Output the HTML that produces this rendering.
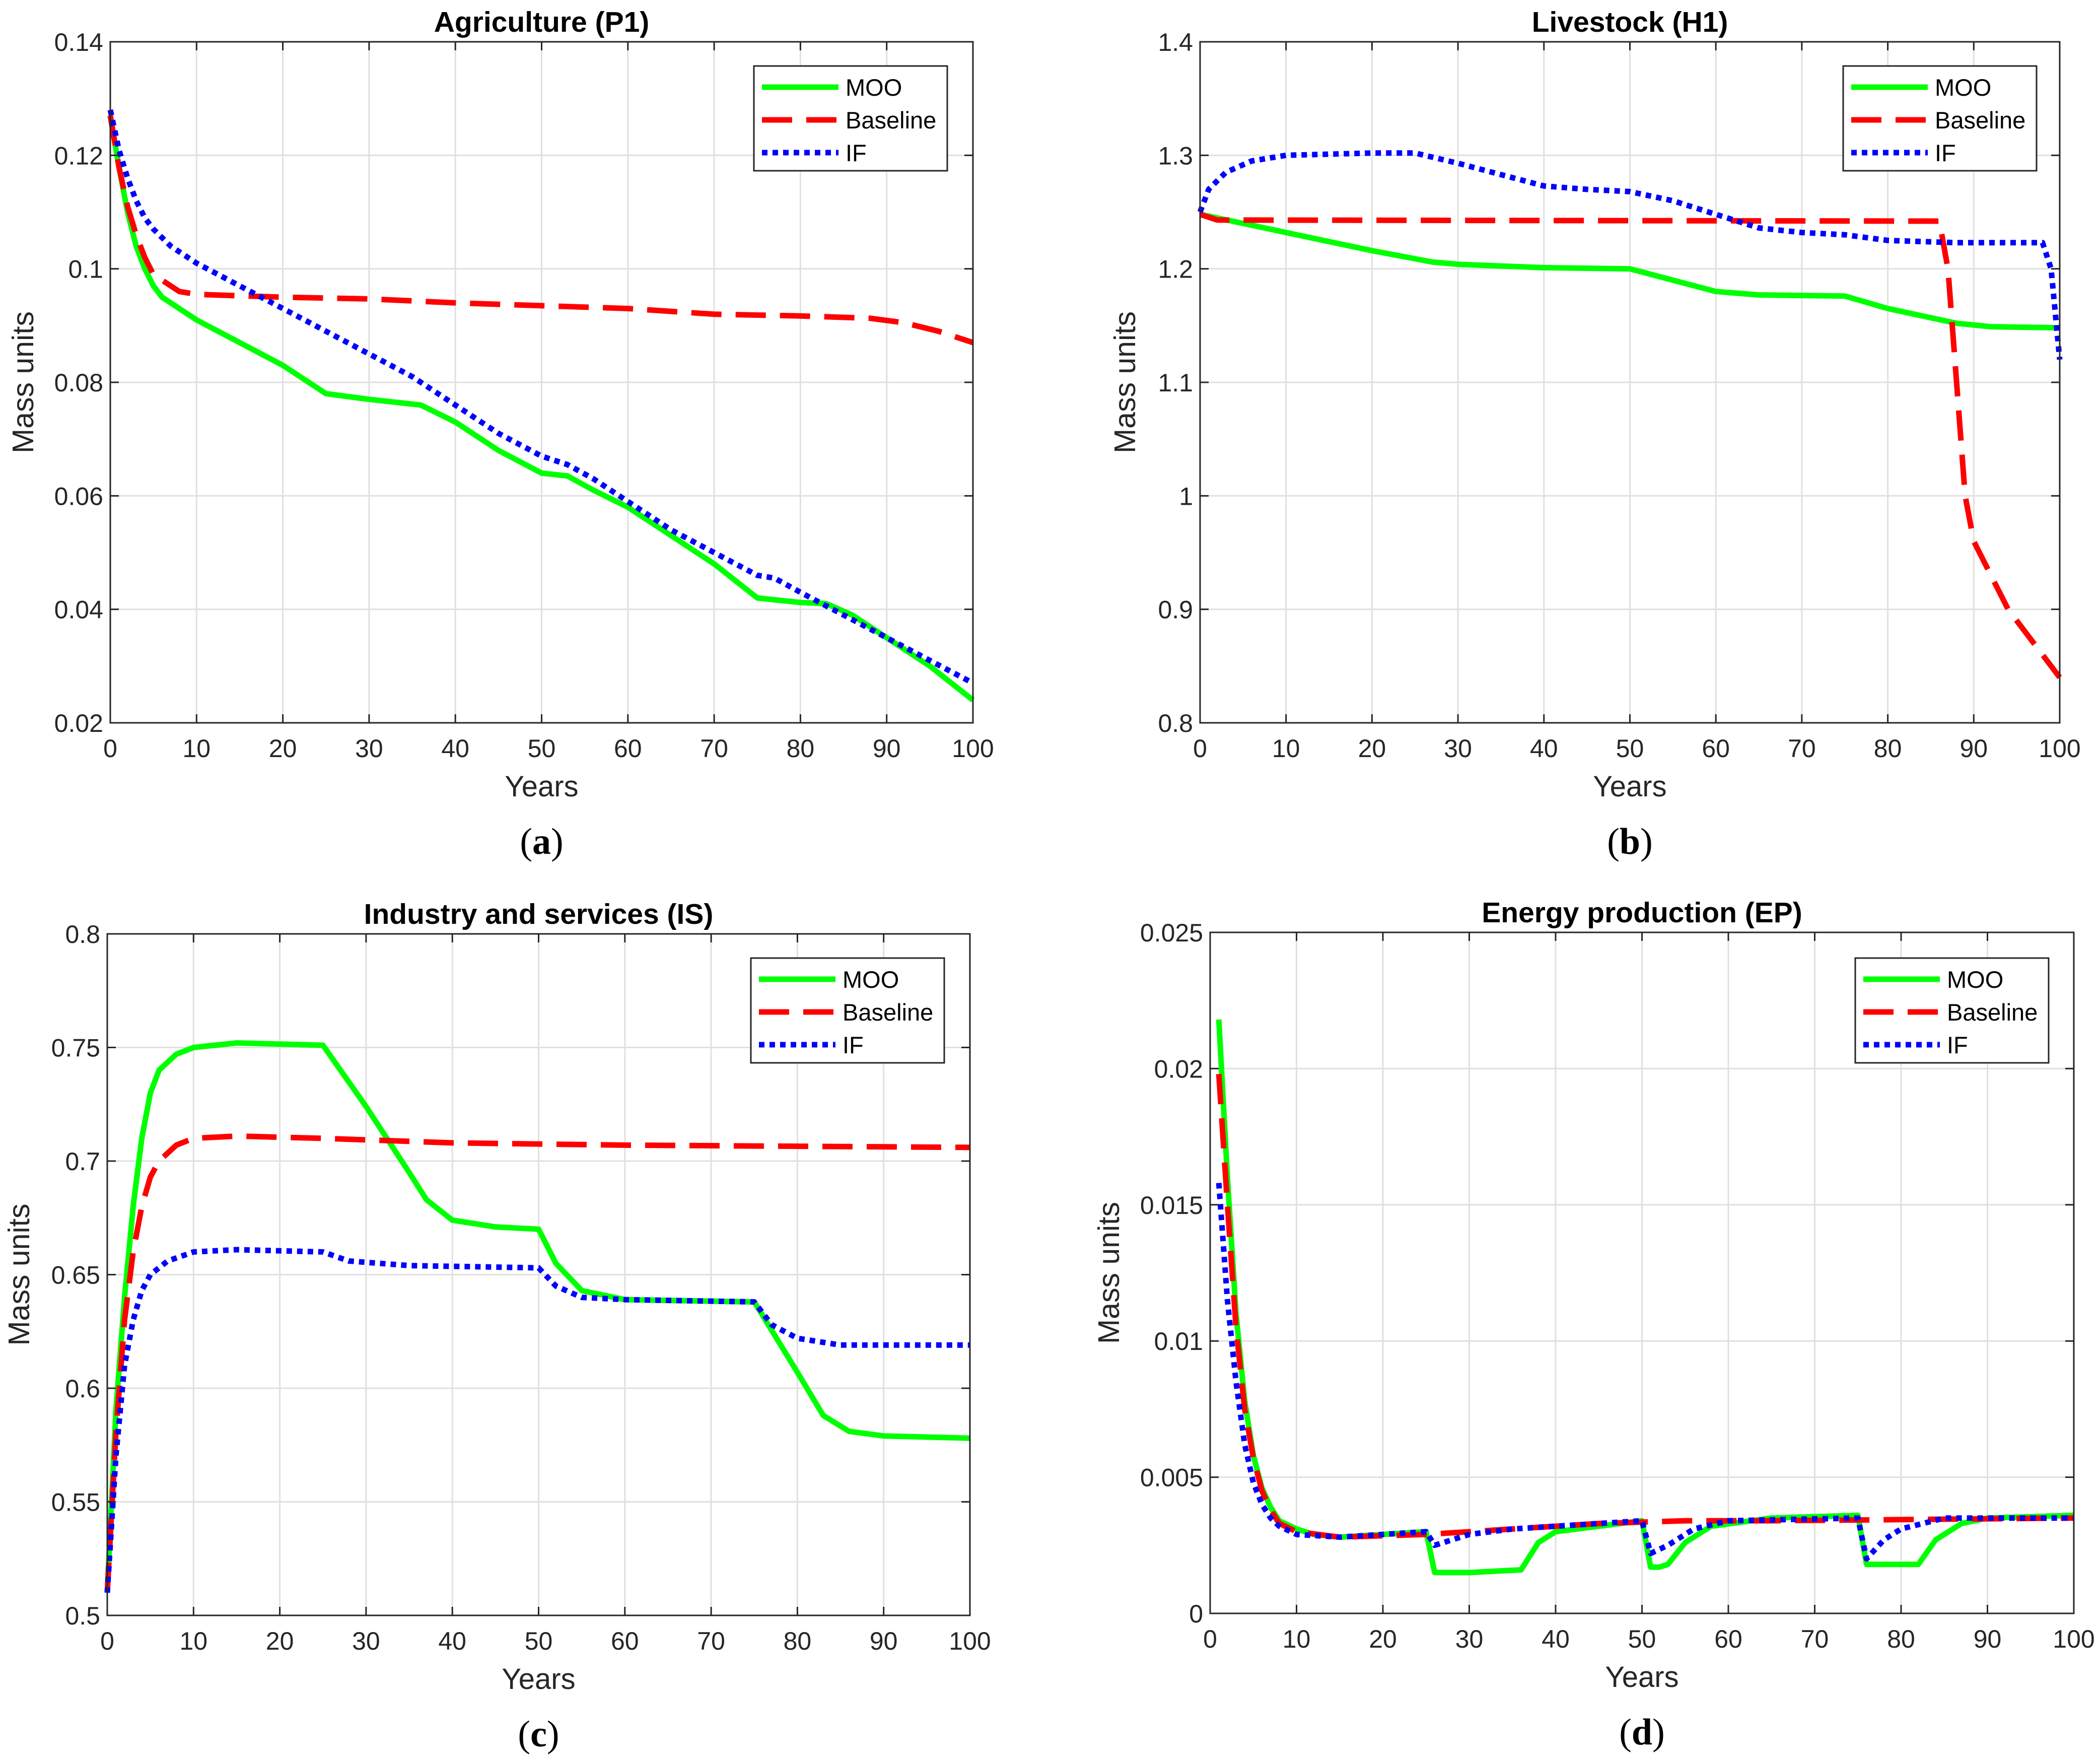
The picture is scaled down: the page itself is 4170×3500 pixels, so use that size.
<!DOCTYPE html>
<html><head><meta charset="utf-8"><style>
html,body{margin:0;padding:0;background:#fff;}
svg{display:block;font-family:"Liberation Sans",Arial,sans-serif;}
</style></head><body>
<svg id="fig" width="4170" height="3500" viewBox="0 0 4170 3500" xmlns="http://www.w3.org/2000/svg"></svg>
<script>
// ---- Panel (a) Agriculture ----
const aMooX=[0,1,2,3,4,5,6,8,10,15,20,25,30,36,40,45,50,53,56,60,65,70,75,80,83,86,90,95,100];
const aMooY=[0.127,0.118,0.110,0.104,0.100,0.097,0.095,0.093,0.091,0.087,0.083,0.078,0.077,0.076,0.073,0.068,0.064,0.0635,0.061,0.058,0.053,0.048,0.042,0.0412,0.041,0.039,0.035,0.030,0.024];
const aBaseX=[0,1,2,3,4,5,6,8,10,20,30,40,50,60,70,80,88,92,96,100];
const aBaseY=[0.127,0.118,0.111,0.106,0.102,0.099,0.098,0.096,0.0955,0.095,0.0947,0.094,0.0935,0.093,0.092,0.0917,0.0913,0.0905,0.089,0.087];
const aIfX=[0,1,2,3,4,5,7,10,15,20,25,30,35,40,45,50,53,56,60,65,70,75,77,80,85,90,95,100];
const aIfY=[0.128,0.121,0.116,0.112,0.109,0.107,0.104,0.101,0.097,0.093,0.089,0.085,0.081,0.076,0.071,0.067,0.0655,0.063,0.059,0.054,0.050,0.046,0.0455,0.043,0.039,0.035,0.031,0.027];
const aTicks=[0.02,0.04,0.06,0.08,0.1,0.12,0.14];
const aTickLabels=["0.02","0.04","0.06","0.08","0.1","0.12","0.14"];
// ---- Panel (b) Livestock ----
const bMooX=[0,5,10,20,27,30,40,50,55,60,65,75,80,88,92,100];
const bMooY=[1.248,1.240,1.232,1.216,1.206,1.204,1.201,1.200,1.190,1.180,1.177,1.176,1.165,1.152,1.149,1.148];
const bBaseX=[0,2,86,87,88,89,90,92,94,97,100];
const bBaseY=[1.248,1.243,1.242,1.20,1.10,1.0,0.96,0.93,0.90,0.87,0.84];
const bIfX=[0,1,3,6,10,20,25,30,40,45,50,55,60,65,70,75,80,88,98,99,100];
const bIfY=[1.25,1.27,1.285,1.295,1.30,1.302,1.302,1.293,1.273,1.270,1.268,1.260,1.248,1.236,1.232,1.230,1.225,1.223,1.223,1.20,1.12];
const bTicks=[0.8,0.9,1.0,1.1,1.2,1.3,1.4];
const bTickLabels=["0.8","0.9","1","1.1","1.2","1.3","1.4"];
// ---- Panel (c) Industry ----
const cMooX=[0,1,2,3,4,5,6,8,10,15,25,30,35,37,40,45,50,52,55,60,75,80,83,86,90,100];
const cMooY=[0.51,0.59,0.64,0.68,0.71,0.73,0.74,0.747,0.75,0.752,0.751,0.724,0.695,0.683,0.674,0.671,0.670,0.655,0.643,0.639,0.638,0.607,0.588,0.581,0.579,0.578];
const cBaseX=[0,1,2,3,4,5,6,8,10,15,25,40,60,100];
const cBaseY=[0.51,0.58,0.63,0.66,0.68,0.693,0.70,0.707,0.71,0.711,0.710,0.708,0.707,0.706];
const cIfX=[0,1,2,3,4,5,7,10,15,25,28,35,50,52,55,60,75,77,80,85,100];
const cIfY=[0.51,0.57,0.61,0.63,0.643,0.650,0.656,0.660,0.661,0.660,0.656,0.654,0.653,0.645,0.640,0.639,0.638,0.628,0.622,0.619,0.619];
const cTicks=[0.5,0.55,0.6,0.65,0.7,0.75,0.8];
const cTickLabels=["0.5","0.55","0.6","0.65","0.7","0.75","0.8"];
// ---- Panel (d) Energy ----
const dMooX=[1,2,3,4,5,6,7,8,10,12,15,20,25,26,30,36,38,40,45,50,51,52,53,55,58,65,75,76,82,84,87,90,100];
const dMooY=[0.0218,0.016,0.011,0.0078,0.0058,0.0046,0.0039,0.0034,0.0031,0.0029,0.0028,0.0029,0.0030,0.0015,0.0015,0.0016,0.0026,0.0030,0.0032,0.0034,0.0017,0.0017,0.0018,0.0026,0.0032,0.0035,0.0036,0.0018,0.0018,0.0027,0.0033,0.0035,0.0036];
const dBaseX=[1,2,3,4,5,6,7,8,10,15,25,35,45,55,65,100];
const dBaseY=[0.0198,0.015,0.0105,0.0075,0.0057,0.0045,0.0038,0.0033,0.0030,0.0028,0.0029,0.0031,0.0033,0.0034,0.0034,0.0035];
const dIfX=[1,2,3,4,5,6,7,8,10,15,20,25,26,30,35,50,51,53,56,60,75,76,78,80,85,100];
const dIfY=[0.0158,0.0115,0.0085,0.0062,0.0048,0.0040,0.0035,0.0032,0.0029,0.0028,0.0029,0.0030,0.0025,0.0029,0.0031,0.0034,0.0022,0.0025,0.0031,0.0034,0.0035,0.0020,0.0027,0.0031,0.0035,0.0035];
const dTicks=[0,0.005,0.01,0.015,0.02,0.025];
const dTickLabels=["0","0.005","0.01","0.015","0.02","0.025"];
const xTicks=[0,10,20,30,40,50,60,70,80,90,100];
const xTickLabels=["0","10","20","30","40","50","60","70","80","90","100"];
const legendLabels=["MOO","Baseline","IF"];

const NS="http://www.w3.org/2000/svg";
const svg=document.getElementById('fig');
function mk(tag,attrs,parent){const e=document.createElementNS(NS,tag);for(const k in attrs)e.setAttribute(k,attrs[k]);(parent||svg).appendChild(e);return e;}

function panel(p){
  const g=mk('g',{});
  
  
  const L=p.box[0],R=p.box[1],T=p.box[2],B=p.box[3];
  const sx=v=>L+(v-0)/(100-0)*(R-L);
  const sy=v=>B-(v-p.ymin)/(p.ymax-p.ymin)*(B-T);
  xTicks.forEach((t,i)=>{
    const l=mk('line',{x1:sx(t),x2:sx(t),y1:T,y2:B,stroke:'#e0e0e0','stroke-width':3},g);
    
    
  });
  p.ticks.forEach(t=>{
    const l=mk('line',{x1:L,x2:R,y1:sy(t),y2:sy(t),stroke:'#e0e0e0','stroke-width':3},g);
    
    
  });
  const series=[
    {x:p.moo[0],y:p.moo[1],c:'#00ff00',d:'',n:'moo-line'},
    {x:p.base[0],y:p.base[1],c:'#ff0000',d:'60 28',n:'baseline-line'},
    {x:p.iff[0],y:p.iff[1],c:'#0000ff',d:'11 10',n:'if-line'}];
  series.forEach(s=>{
    const pts=s.x.map((v,i)=>sx(v).toFixed(1)+','+sy(s.y[i]).toFixed(1)).join(' ');
    const pl=mk('polyline',{points:pts,fill:'none',stroke:s.c,'stroke-width':11,'stroke-dasharray':s.d,'stroke-linejoin':'round'},g);
    
    
  });
  const bx=mk('rect',{x:L,y:T,width:R-L,height:B-T,fill:'none',stroke:'#262626','stroke-width':3},g);
  
  
  xTicks.forEach((t,i)=>{
    mk('line',{x1:sx(t),x2:sx(t),y1:B,y2:B-17,stroke:'#262626','stroke-width':3},g);
    mk('line',{x1:sx(t),x2:sx(t),y1:T,y2:T+17,stroke:'#262626','stroke-width':3},g);
    const tx=mk('text',{x:sx(t),y:B+68,'font-size':50,'text-anchor':'middle',fill:'#262626'},g);
    tx.textContent=xTickLabels[i];
    
    
  });
  p.ticks.forEach((t,i)=>{
    mk('line',{x1:L,x2:L+17,y1:sy(t),y2:sy(t),stroke:'#262626','stroke-width':3},g);
    mk('line',{x1:R,x2:R-17,y1:sy(t),y2:sy(t),stroke:'#262626','stroke-width':3},g);
    const tx=mk('text',{x:L-14,y:sy(t)+18,'font-size':50,'text-anchor':'end',fill:'#262626'},g);
    tx.textContent=p.labels[i];
    
    
  });
  const ti=mk('text',{x:(L+R)/2,y:T-20,'font-size':57,'font-weight':'bold','text-anchor':'middle',fill:'#000'},g);
  ti.textContent=p.title;
  
  
  const xl=mk('text',{x:(L+R)/2,y:B+146,'font-size':58,'text-anchor':'middle',fill:'#262626'},g);
  xl.textContent='Years';
  
  
  const yx=p.ylab,ym=(T+B)/2;
  const yl=mk('text',{x:yx,y:ym,'font-size':59,'text-anchor':'middle',fill:'#262626',transform:`rotate(-90 ${yx} ${ym})`},g);
  yl.textContent='Mass units';
  
  
  const cap=mk('text',{x:(L+R)/2,y:B+260,'font-size':74,'text-anchor':'middle',fill:'#000','font-family':'"Liberation Serif",serif'},g);
  cap.innerHTML='(<tspan font-weight="bold">'+p.cap+'</tspan>)';
  
  
  const lg=mk('g',{},g);
  
  
  const lx=p.leg[0],ly=p.leg[1];
  mk('rect',{x:lx,y:ly,width:384,height:208,fill:'#fff',stroke:'#262626','stroke-width':3},lg);
  series.forEach((s,i)=>{
    const yy=ly+42+i*65;
    mk('line',{x1:lx+16,x2:lx+168,y1:yy,y2:yy,stroke:s.c,'stroke-width':11,'stroke-dasharray':s.d},lg);
    const t=mk('text',{x:lx+182,y:yy+17,'font-size':47,fill:'#000'},lg);
    t.textContent=legendLabels[i];
    
    
  });
}

panel({id:'agriculture',title:'Agriculture (P1)',cap:'a',box:[219,1932,83,1435],ymin:0.02,ymax:0.14,ticks:aTicks,labels:aTickLabels,
  moo:[aMooX,aMooY],base:[aBaseX,aBaseY],iff:[aIfX,aIfY],ylab:66,leg:[1497,131]});
panel({id:'livestock',title:'Livestock (H1)',cap:'b',box:[2383,4090,83,1435],ymin:0.8,ymax:1.4,ticks:bTicks,labels:bTickLabels,
  moo:[bMooX,bMooY],base:[bBaseX,bBaseY],iff:[bIfX,bIfY],ylab:2254,leg:[3660,131]});
panel({id:'industry',title:'Industry and services (IS)',cap:'c',box:[213,1926,1854,3207],ymin:0.5,ymax:0.8,ticks:cTicks,labels:cTickLabels,
  moo:[cMooX,cMooY],base:[cBaseX,cBaseY],iff:[cIfX,cIfY],ylab:58,leg:[1491,1902]});
panel({id:'energy',title:'Energy production (EP)',cap:'d',box:[2403,4118,1851,3203],ymin:0,ymax:0.025,ticks:dTicks,labels:dTickLabels,
  moo:[dMooX,dMooY],base:[dBaseX,dBaseY],iff:[dIfX,dIfY],ylab:2222,leg:[3684,1902]});
</script>
</body></html>
